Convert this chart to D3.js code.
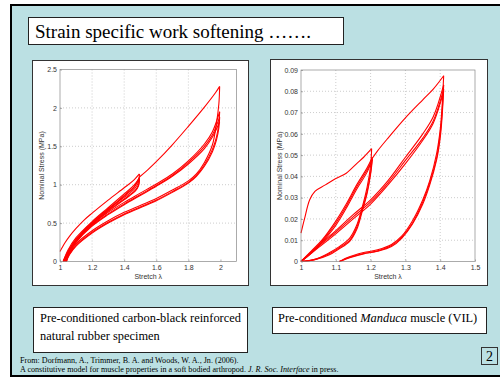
<!DOCTYPE html>
<html>
<head>
<meta charset="utf-8">
<script src="https://cdn.jsdelivr.net/npm/d3@7"></script>
<style>
  body { margin: 0; background: #fff; }
  svg { display: block; }
  .tick text { font-family: "Liberation Sans", Arial, sans-serif; font-size: 7px; fill: #333; }
  .axlabel { font-family: "Liberation Sans", Arial, sans-serif; font-size: 7px; fill: #333; }
  .serif { font-family: "Liberation Serif", "Times New Roman", serif; fill: #000; }
</style>
</head>
<body>
<div id="slide"></div>
<script>
// tick labels
var rubberXTicks = [1, 1.2, 1.4, 1.6, 1.8, 2],
    rubberYTicks = [0, 0.5, 1, 1.5, 2, 2.5],
    muscleXTicks = [1, 1.1, 1.2, 1.3, 1.4, 1.5],
    muscleYTicks = [0, 0.01, 0.02, 0.03, 0.04, 0.05, 0.06, 0.07, 0.08, 0.09];

// rubber specimen: stretch, nominal stress (MPa)
var rubberLoad1 = [[1.0,0.13],[1.03,0.24],[1.06,0.33],[1.1,0.43],[1.15,0.54],[1.2,0.63],[1.3,0.8],[1.4,0.96],[1.46,1.06],[1.495,1.14]],
    rubberUnload1 = [[1.495,1.14],[1.49,1.04],[1.47,0.96],[1.43,0.88],[1.35,0.76],[1.25,0.6],[1.15,0.41],[1.08,0.23],[1.04,0.09],[1.02,0]],
    rubberLoad2 = [[1.02,0],[1.05,0.15],[1.1,0.31],[1.2,0.52],[1.3,0.7],[1.4,0.88],[1.46,0.99],[1.495,1.09]],
    rubberUnload2 = [[1.495,1.09],[1.49,1.0],[1.47,0.93],[1.43,0.86],[1.35,0.74],[1.25,0.58],[1.15,0.39],[1.08,0.21],[1.04,0.08],[1.02,0]],
    rubberLoad3 = [[1.02,0],[1.05,0.13],[1.1,0.29],[1.2,0.5],[1.3,0.68],[1.4,0.86],[1.46,0.97],[1.495,1.07]],
    rubberUnload3 = [[1.495,1.07],[1.49,0.99],[1.47,0.92],[1.43,0.85],[1.35,0.73],[1.25,0.57],[1.15,0.38],[1.08,0.2],[1.04,0.07],[1.025,0]],
    rubberLoad4 = [[1.025,0],[1.05,0.12],[1.1,0.28],[1.2,0.49],[1.3,0.67],[1.4,0.85],[1.46,0.96],[1.495,1.1]],
    rubberVirgin2 = [[1.495,1.1],[1.55,1.2],[1.6,1.3],[1.7,1.52],[1.8,1.76],[1.9,2.01],[1.97,2.2],[1.995,2.28]],
    rubberUnload4 = [[1.995,2.28],[1.99,2.05],[1.975,1.8],[1.95,1.52],[1.9,1.29],[1.85,1.14],[1.8,1.05],[1.7,0.93],[1.6,0.82],[1.5,0.73],[1.4,0.64],[1.3,0.53],[1.2,0.4],[1.1,0.23],[1.06,0.11],[1.03,0]],
    rubberLoad5 = [[1.03,0],[1.06,0.15],[1.1,0.28],[1.2,0.49],[1.3,0.64],[1.4,0.77],[1.5,0.89],[1.6,1.01],[1.7,1.14],[1.8,1.31],[1.9,1.53],[1.95,1.69],[1.995,1.95]],
    rubberUnload5 = [[1.995,1.95],[1.99,1.8],[1.975,1.62],[1.95,1.46],[1.9,1.26],[1.85,1.12],[1.8,1.03],[1.7,0.91],[1.6,0.8],[1.5,0.71],[1.4,0.62],[1.3,0.51],[1.2,0.38],[1.1,0.21],[1.06,0.1],[1.035,0]],
    rubberLoad6 = [[1.035,0],[1.06,0.13],[1.1,0.26],[1.2,0.47],[1.3,0.62],[1.4,0.75],[1.5,0.87],[1.6,0.99],[1.7,1.12],[1.8,1.29],[1.9,1.5],[1.95,1.65],[1.995,1.88]],
    rubberUnload6 = [[1.995,1.88],[1.99,1.74],[1.975,1.58],[1.95,1.43],[1.9,1.24],[1.85,1.11],[1.8,1.02],[1.7,0.9],[1.6,0.79],[1.5,0.7],[1.4,0.61],[1.3,0.5],[1.2,0.37],[1.1,0.2],[1.06,0.09],[1.04,0]],
    rubberLoad7 = [[1.04,0],[1.06,0.12],[1.1,0.25],[1.2,0.46],[1.3,0.61],[1.4,0.74],[1.5,0.86],[1.6,0.98],[1.7,1.11],[1.8,1.27],[1.9,1.47],[1.95,1.62],[1.995,1.82]];

// Manduca muscle: stretch, nominal stress (MPa)
var muscleLoad1 = [[1.0,0.0133],[1.01,0.02],[1.025,0.029],[1.04,0.033],[1.07,0.036],[1.1,0.039],[1.13,0.0415],[1.16,0.046],[1.18,0.049],[1.203,0.053]],
    muscleUnload1 = [[1.203,0.053],[1.2,0.045],[1.19,0.035],[1.175,0.025],[1.16,0.017],[1.14,0.011],[1.11,0.007],[1.08,0.004],[1.04,0.001],[1.0,0]],
    muscleLoad2 = [[1.0,0],[1.03,0.005],[1.06,0.01],[1.1,0.019],[1.13,0.027],[1.16,0.036],[1.19,0.044],[1.205,0.049]],
    muscleUnload2 = [[1.205,0.049],[1.2,0.042],[1.19,0.033],[1.175,0.024],[1.16,0.016],[1.14,0.01],[1.11,0.0065],[1.08,0.0035],[1.04,0.001],[1.0,0]],
    muscleLoad3 = [[1.0,0],[1.03,0.0045],[1.06,0.0095],[1.1,0.018],[1.13,0.026],[1.16,0.035],[1.19,0.043],[1.205,0.048]],
    muscleUnload3 = [[1.205,0.048],[1.2,0.041],[1.19,0.032],[1.175,0.023],[1.16,0.015],[1.14,0.0095],[1.11,0.006],[1.08,0.003],[1.04,0.0008],[1.0,0]],
    muscleLoad4 = [[1.0,0],[1.03,0.004],[1.06,0.009],[1.1,0.017],[1.13,0.025],[1.16,0.034],[1.19,0.042],[1.205,0.0485]],
    muscleVirgin2 = [[1.205,0.0485],[1.22,0.052],[1.25,0.058],[1.3,0.0675],[1.35,0.076],[1.38,0.081],[1.41,0.0873]],
    muscleUnload4 = [[1.41,0.0873],[1.405,0.072],[1.4,0.062],[1.39,0.051],[1.37,0.038],[1.35,0.029],[1.32,0.019],[1.29,0.012],[1.26,0.008],[1.22,0.0055],[1.18,0.0042],[1.15,0.0028],[1.13,0.0016],[1.115,0.0004],[1.11,0]],
    muscleLoad5 = [[1.0,0],[1.05,0.0075],[1.1,0.0145],[1.15,0.022],[1.2,0.029],[1.25,0.038],[1.3,0.049],[1.35,0.06],[1.38,0.068],[1.41,0.083]],
    muscleUnload5 = [[1.41,0.083],[1.405,0.069],[1.4,0.06],[1.39,0.049],[1.37,0.037],[1.35,0.028],[1.32,0.018],[1.29,0.0115],[1.26,0.0075],[1.22,0.005],[1.18,0.0038],[1.15,0.0025],[1.13,0.0014],[1.115,0.0003],[1.11,0]],
    muscleLoad6 = [[1.0,0],[1.05,0.007],[1.1,0.0138],[1.15,0.021],[1.2,0.028],[1.25,0.037],[1.3,0.0475],[1.35,0.058],[1.38,0.066],[1.41,0.081]],
    muscleUnload6 = [[1.41,0.081],[1.405,0.067],[1.4,0.058],[1.39,0.048],[1.37,0.036],[1.35,0.027],[1.32,0.0175],[1.29,0.011],[1.26,0.007],[1.22,0.0048],[1.18,0.0036],[1.15,0.0023],[1.13,0.0012],[1.115,0.0002],[1.11,0]],
    muscleLoad7 = [[1.0,0],[1.05,0.0065],[1.1,0.013],[1.15,0.02],[1.2,0.027],[1.25,0.036],[1.3,0.046],[1.35,0.057],[1.38,0.065],[1.41,0.08]];

var rubberCurves = [rubberLoad1, rubberUnload1, rubberLoad2, rubberUnload2, rubberLoad3, rubberUnload3, rubberLoad4,
        rubberVirgin2, rubberUnload4, rubberLoad5, rubberUnload5, rubberLoad6, rubberUnload6, rubberLoad7],
    muscleCurves = [muscleLoad1, muscleUnload1, muscleLoad2, muscleUnload2, muscleLoad3, muscleUnload3, muscleLoad4,
        muscleVirgin2, muscleUnload4, muscleLoad5, muscleUnload5, muscleLoad6, muscleUnload6, muscleLoad7];

var W = 500, H = 377;

var svg = d3.select("#slide").append("svg")
    .attr("width", W)
    .attr("height", H);

// slide background and frame
svg.append("rect")
    .attr("x", 11).attr("y", 5)
    .attr("width", 500).attr("height", 371)
    .attr("fill", "#bbe0e3")
    .attr("stroke", "#000")
    .attr("stroke-width", 2);

// title box
svg.append("rect")
    .attr("x", 28.5).attr("y", 17.5)
    .attr("width", 315).attr("height", 27)
    .attr("fill", "#fff").attr("stroke", "#222");
svg.append("text")
    .attr("class", "serif")
    .attr("x", 35).attr("y", 38)
    .style("font-size", "19px")
    .text("Strain specific work softening …….");

function createChart(panel, plot, xDomain, yDomain, xTicks, yTicks, yFormat, curves) {
    svg.append("rect")
        .attr("x", panel.x + 0.5).attr("y", panel.y + 0.5)
        .attr("width", panel.w).attr("height", panel.h)
        .attr("fill", "#fff")
        .attr("stroke", "#333")
        .attr("stroke-width", 1);

    var x = d3.scaleLinear().domain(xDomain).range([plot.x0, plot.x1]),
        y = d3.scaleLinear().domain(yDomain).range([plot.y1, plot.y0]);

    var chart = svg.append("g");

    // grid
    chart.append("g")
        .selectAll("line.vg")
        .data(xTicks.slice(1, -1))
        .enter().append("line")
        .attr("x1", function (d) { return x(d); })
        .attr("x2", function (d) { return x(d); })
        .attr("y1", plot.y0).attr("y2", plot.y1)
        .attr("stroke", "#aaa").attr("stroke-width", 0.6)
        .attr("stroke-dasharray", "1,2");
    chart.append("g")
        .selectAll("line.hg")
        .data(yTicks.slice(1, -1))
        .enter().append("line")
        .attr("y1", function (d) { return y(d); })
        .attr("y2", function (d) { return y(d); })
        .attr("x1", plot.x0).attr("x2", plot.x1)
        .attr("stroke", "#aaa").attr("stroke-width", 0.6)
        .attr("stroke-dasharray", "1,2");

    // data
    var line = d3.line()
        .curve(d3.curveCatmullRom.alpha(0.5))
        .x(function (d) { return x(d[0]); })
        .y(function (d) { return y(d[1]); });

    chart.append("g")
        .selectAll("path")
        .data(curves)
        .enter().append("path")
        .attr("d", line)
        .attr("fill", "none")
        .attr("stroke", "#ff0000")
        .attr("stroke-width", 1.1);

    // axes
    var xAxis = chart.append("g")
        .attr("transform", "translate(0," + plot.y1 + ")")
        .call(d3.axisBottom(x).tickValues(xTicks).tickSize(-2).tickPadding(4)
            .tickFormat(function (d) { return String(d); }));
    var yAxis = chart.append("g")
        .attr("transform", "translate(" + plot.x0 + ",0)")
        .call(d3.axisLeft(y).tickValues(yTicks).tickSize(-2).tickPadding(3)
            .tickFormat(yFormat));
    [xAxis, yAxis].forEach(function (a) {
        a.select(".domain").remove();
        a.selectAll(".tick line").attr("stroke", "#777").attr("stroke-width", 0.6);
    });

    chart.append("rect")
        .attr("x", plot.x0).attr("y", plot.y0)
        .attr("width", plot.x1 - plot.x0).attr("height", plot.y1 - plot.y0)
        .attr("fill", "none")
        .attr("stroke", "#888")
        .attr("stroke-width", 0.7);

    chart.append("text")
        .attr("class", "axlabel")
        .attr("x", (plot.x0 + plot.x1) / 2)
        .attr("y", plot.y1 + 17)
        .style("text-anchor", "middle")
        .text("Stretch λ");

    chart.append("text")
        .attr("class", "axlabel")
        .attr("transform", "rotate(-90)")
        .attr("x", -(plot.y0 + plot.y1) / 2)
        .attr("y", plot.x0 - plot.labelGap)
        .style("text-anchor", "middle")
        .text("Nominal Stress (MPa)");
}

createChart({x: 32, y: 60, w: 216, h: 225},
    {x0: 60, x1: 236.5, y0: 69.5, y1: 261.5, labelGap: 16},
    [1, 2.1], [0, 2.5], rubberXTicks, rubberYTicks,
    function (d) { return String(d); }, rubberCurves);

createChart({x: 270, y: 59, w: 217, h: 226},
    {x0: 301, x1: 475, y0: 70, y1: 261.5, labelGap: 19},
    [1, 1.5], [0, 0.09], muscleXTicks, muscleYTicks,
    function (d) { return d === 0 ? "0" : d3.format(".2f")(d); }, muscleCurves);

// caption boxes
svg.append("rect")
    .attr("x", 33.5).attr("y", 307.5)
    .attr("width", 214).attr("height", 45)
    .attr("fill", "#fff").attr("stroke", "#222");
svg.append("text").attr("class", "serif")
    .attr("x", 40).attr("y", 322)
    .style("font-size", "12.4px")
    .text("Pre-conditioned carbon-black reinforced");
svg.append("text").attr("class", "serif")
    .attr("x", 40).attr("y", 340)
    .style("font-size", "12.4px")
    .text("natural rubber specimen");

svg.append("rect")
    .attr("x", 272.5).attr("y", 307.5)
    .attr("width", 214).attr("height", 26)
    .attr("fill", "#fff").attr("stroke", "#222");
var cap2 = svg.append("text").attr("class", "serif")
    .attr("x", 278).attr("y", 322)
    .style("font-size", "12.4px");
cap2.append("tspan").text("Pre-conditioned ");
cap2.append("tspan").style("font-style", "italic").text("Manduca");
cap2.append("tspan").text(" muscle (VIL)");

// slide number
svg.append("rect")
    .attr("x", 481.5).attr("y", 347.5)
    .attr("width", 16).attr("height", 17)
    .attr("fill", "none").attr("stroke", "#333");
svg.append("text").attr("class", "serif")
    .attr("x", 489.5).attr("y", 361)
    .style("font-size", "14px")
    .style("text-anchor", "middle")
    .text("2");

// reference
svg.append("text").attr("class", "serif")
    .attr("x", 20).attr("y", 363)
    .style("font-size", "8.1px")
    .text("From: Dorfmann, A., Trimmer, B. A. and Woods, W. A., Jn. (2006).");
var ref2 = svg.append("text").attr("class", "serif")
    .attr("x", 20).attr("y", 372)
    .style("font-size", "8.1px");
ref2.append("tspan").text("A constitutive model for muscle properties in a soft bodied arthropod. ");
ref2.append("tspan").style("font-style", "italic").text("J. R. Soc. Interface");
ref2.append("tspan").text(" in press.");
</script>
</body>
</html>
